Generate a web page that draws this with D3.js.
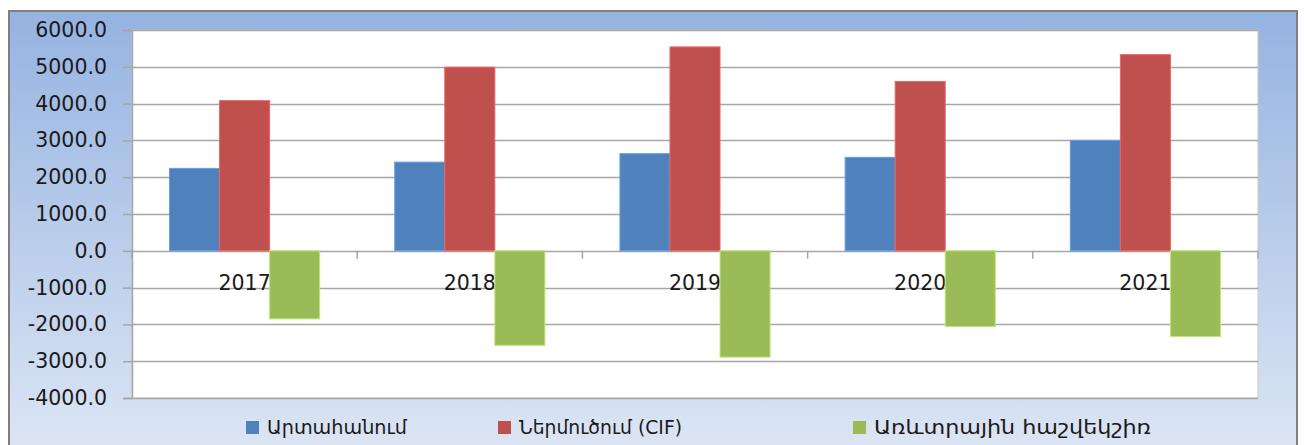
<!DOCTYPE html>
<html><head><meta charset="utf-8">
<script src="https://cdn.jsdelivr.net/npm/d3@7"></script>
<style>body{margin:0;background:#fff}svg{display:block}</style>
</head><body><svg id="c" width="1304" height="445"></svg>
<script>
const categories = ["2017","2018","2019","2020","2021"];
const seriesNames = ["Արտահանում","Ներմուծում (CIF)","Առևտրային հաշվեկշիռ"];
const exportsVals = [2240, 2410, 2640, 2540, 3000];
const importsVals = [4080, 4990, 5540, 4600, 5330];
const balanceVals = [-1850, -2570, -2890, -2060, -2330];
const yTicks = [6000,5000,4000,3000,2000,1000,0,-1000,-2000,-3000,-4000];
const colors = ["#4f81bd","#c0504d","#9bbb59"];
const series = [exportsVals, importsVals, balanceVals];

const svg = d3.select("#c");
const defs = svg.append("defs");
const g = defs.append("linearGradient").attr("id","bg").attr("x1",0).attr("y1",0).attr("x2",0).attr("y2",1);
g.append("stop").attr("offset","0%").attr("stop-color","#95b3e1");
g.append("stop").attr("offset","100%").attr("stop-color","#dde6f4");

svg.append("rect").attr("x",9).attr("y",11).attr("width",1288).attr("height",445).attr("fill","url(#bg)")
  .attr("stroke","#7f7f7f").attr("stroke-width",2);

const L=132, R=1258, T=30, B=398;
svg.append("rect").attr("x",L).attr("y",T).attr("width",R-L).attr("height",B-T).attr("fill","#fff")
  .attr("stroke","#c8c8c8").attr("stroke-width",1);

const y = d3.scaleLinear().domain([-4000,6000]).range([B,T]);
const x0 = d3.scaleBand().domain(categories).range([L,R]).paddingInner(0).paddingOuter(0);
const x1 = d3.scaleBand().domain(d3.range(3)).range([0,x0.bandwidth()]).paddingOuter(0.75).paddingInner(0);

// gridlines
svg.append("g").selectAll("line").data(yTicks).join("line")
  .attr("x1",L).attr("x2",R).attr("y1",d=>Math.round(y(d))+0.5).attr("y2",d=>Math.round(y(d))+0.5)
  .attr("stroke","#a6a6a6").attr("stroke-width",1.5);

// y axis
const fmt = d3.format(".1f");
const yAxis = d3.axisLeft(y).tickValues(yTicks).tickFormat(d=>fmt(d).replace("\u2212","-")).tickSize(9).tickPadding(16);
const ya = svg.append("g").attr("transform",`translate(${L},0)`).call(yAxis);
ya.select(".domain").attr("stroke","#a6a6a6").attr("stroke-width",1.5);
ya.selectAll(".tick line").attr("stroke","#a6a6a6").attr("stroke-width",1.5);
ya.selectAll("text").attr("font-family","DejaVu Sans, Verdana, sans-serif").attr("font-size","20.5px").attr("fill","#1a1a1a");

// category axis at zero
const xAxis = d3.axisBottom(x0).tickSize(0).tickPadding(24);
const xa = svg.append("g").attr("transform",`translate(0,${Math.round(y(0))+0.5})`).call(xAxis);
xa.select(".domain").remove();
xa.selectAll("text").attr("font-family","DejaVu Sans, Verdana, sans-serif").attr("font-size","20.5px").attr("fill","#1a1a1a");
const bounds = categories.map(c=>x0(c)).concat([R]);
svg.append("g").selectAll("line").data(bounds).join("line")
  .attr("x1",d=>d).attr("x2",d=>d).attr("y1",y(0)).attr("y2",y(0)+8)
  .attr("stroke","#a6a6a6").attr("stroke-width",1.5);

// bars
series.forEach((vals,si)=>{
  svg.append("g").selectAll("rect").data(vals).join("rect")
    .attr("x",(d,i)=>x0(categories[i])+x1(si))
    .attr("width",x1.bandwidth())
    .attr("y",d=>y(Math.max(0,d)))
    .attr("height",d=>Math.abs(y(d)-y(0)))
    .attr("fill",colors[si])
    .attr("stroke",d3.color(colors[si]).brighter(0.6)).attr("stroke-width",1);
});

// legend
const legendX = [246, 498, 853];
const legendW = [140, 163, 277];
const lg = svg.append("g");
seriesNames.forEach((n,i)=>{
  lg.append("rect").attr("x",legendX[i]).attr("y",421).attr("width",13).attr("height",13).attr("fill",colors[i]);
  lg.append("text").attr("x",legendX[i]+21).attr("y",434).text(n)
    .attr("textLength",legendW[i]).attr("lengthAdjust","spacingAndGlyphs")
    .attr("font-family","DejaVu Sans, sans-serif").attr("font-size","20px").attr("fill","#1a1a1a");
});
</script></body></html>
